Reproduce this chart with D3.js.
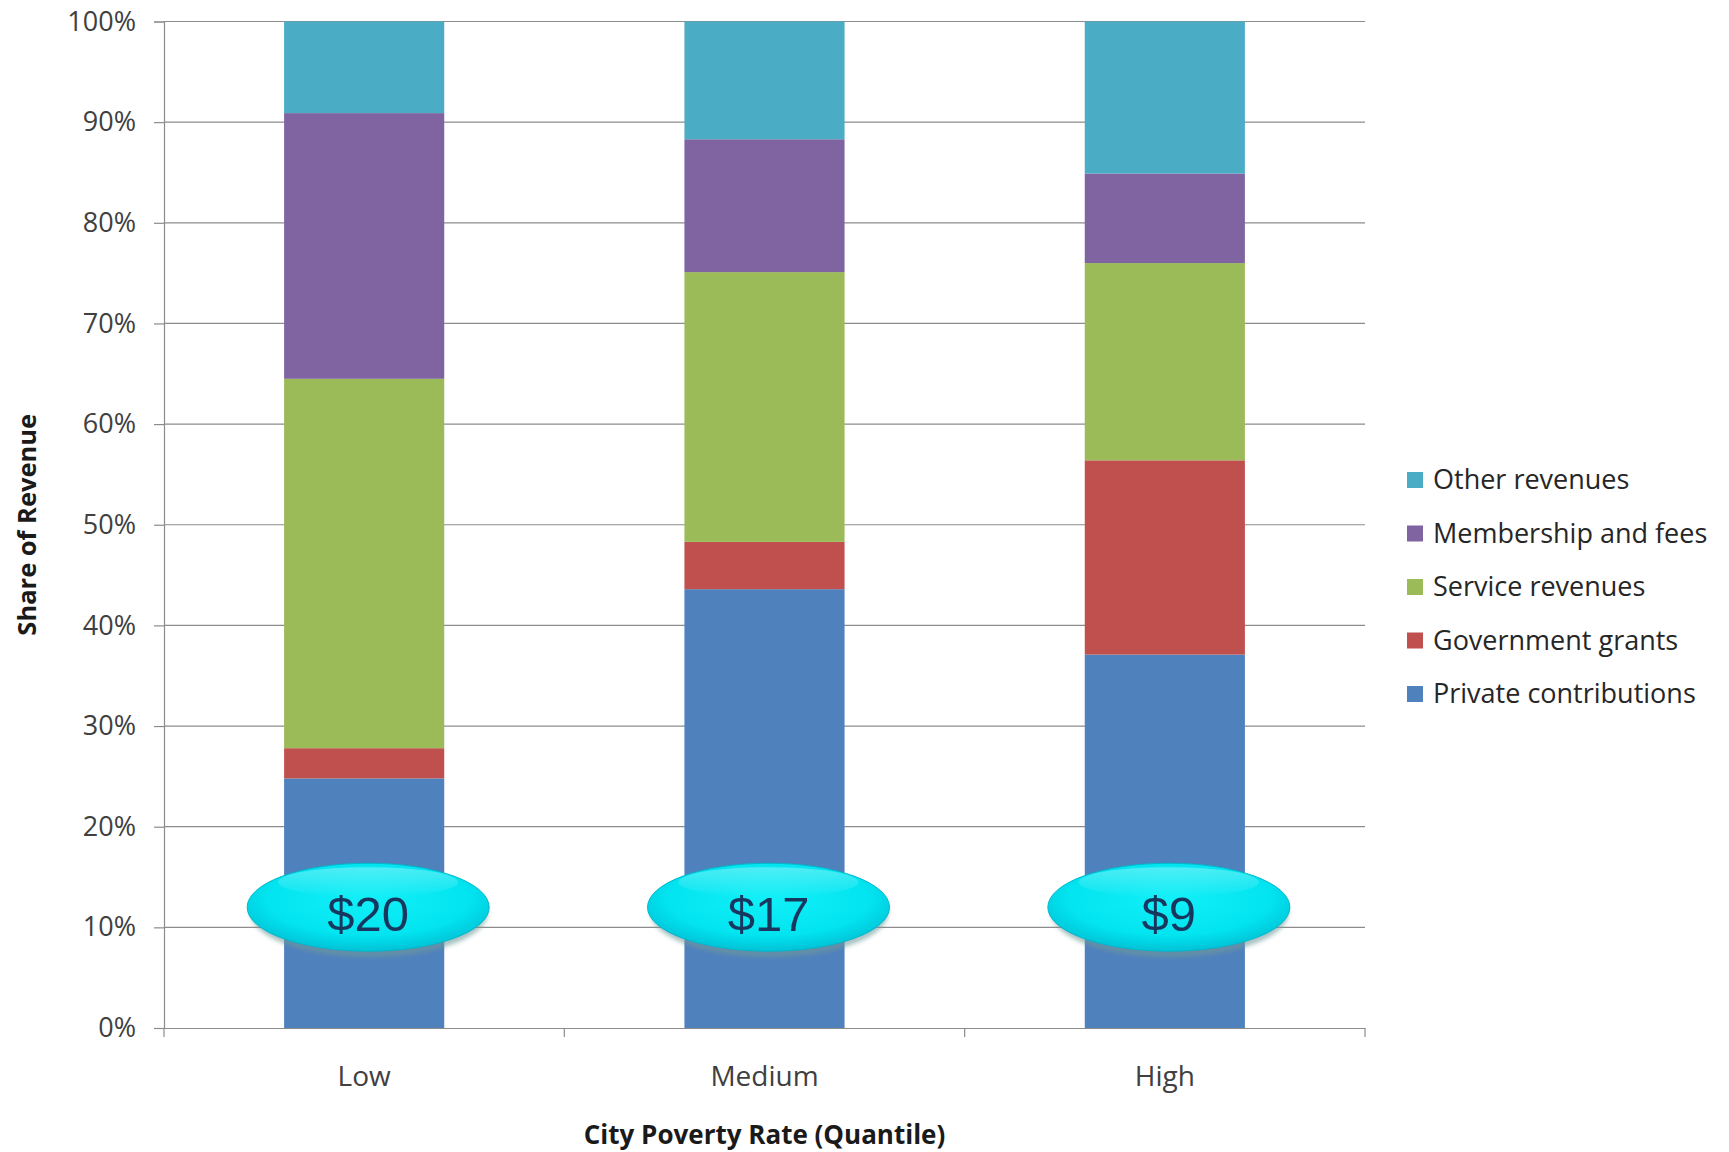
<!DOCTYPE html>
<html><head><meta charset="utf-8">
<script src="https://cdn.jsdelivr.net/npm/d3@7/dist/d3.min.js"></script>
<style>body{margin:0;background:#fff}svg{display:block}</style>
</head><body><svg id="c" width="1729" height="1152" font-family="'Open Sans',sans-serif"></svg>
<script>
const categories = ["Low", "Medium", "High"];
const seriesNames = ["Private contributions", "Government grants", "Service revenues", "Membership and fees", "Other revenues"];
const privateContributions = [24.8, 43.6, 37.1];
const governmentGrants = [3.0, 4.7, 19.3];
const serviceRevenues = [36.7, 26.8, 19.6];
const membershipAndFees = [26.4, 13.2, 8.9];
const otherRevenues = [9.1, 11.7, 15.1];
const totalRevenue = ["$20", "$17", "$9"];
const yTicks = [0, 10, 20, 30, 40, 50, 60, 70, 80, 90, 100];
const colors = ["#4F81BD", "#C0504D", "#9BBB59", "#8064A2", "#4BACC6"];

const seriesValues = [privateContributions, governmentGrants, serviceRevenues, membershipAndFees, otherRevenues];
const table = categories.map((c, i) => {
  const o = {cat: c};
  seriesNames.forEach((s, j) => o[s] = seriesValues[j][i]);
  return o;
});
const stacked = d3.stack().keys(seriesNames)(table);

const svg = d3.select("#c");
const L = 164, R = 1365, T = 21.5, B = 1028;
const x = d3.scaleBand().domain(categories).range([L, R]).paddingInner(0.6).paddingOuter(0.3);
const y = d3.scaleLinear().domain([0, 100]).range([B, T]);
const color = d3.scaleOrdinal().domain(seriesNames).range(colors);

// gridlines
svg.append("g").selectAll("line").data(yTicks.filter(d => d > 0)).join("line")
  .attr("x1", L).attr("x2", R).attr("y1", d => y(d)).attr("y2", d => y(d))
  .attr("stroke", "#8c8c8c").attr("stroke-width", 1.2);

// bars
svg.append("g").selectAll("g").data(stacked).join("g")
  .attr("fill", d => color(d.key))
  .selectAll("rect").data(d => d).join("rect")
  .attr("x", d => x(d.data.cat)).attr("width", x.bandwidth())
  .attr("y", d => y(d[1])).attr("height", d => y(d[0]) - y(d[1]));

// y axis
const yAxis = svg.append("g").attr("transform", `translate(${L},0)`)
  .call(d3.axisLeft(y).tickValues(yTicks).tickFormat(d => d + "%").tickSize(10).tickPadding(18));
yAxis.select(".domain").attr("stroke", "#8c8c8c").attr("stroke-width", 1.2);
yAxis.selectAll(".tick line").attr("stroke", "#8c8c8c").attr("stroke-width", 1.2);
yAxis.selectAll(".tick text").attr("font-size", 27).attr("fill", "#404040").attr("font-family", "'Open Sans',sans-serif");

// x axis
const xAxis = svg.append("g").attr("transform", `translate(0,${B})`)
  .call(d3.axisBottom(x).tickSize(0).tickPadding(38));
xAxis.select(".domain").attr("stroke", "#8c8c8c").attr("stroke-width", 1.2);
xAxis.selectAll(".tick text").attr("font-size", 28).attr("fill", "#404040").attr("font-family", "'Open Sans',sans-serif");
const bounds = [0, 1, 2, 3].map(i => L + i * (R - L) / categories.length);
svg.append("g").selectAll("line").data(bounds).join("line")
  .attr("x1", d => d).attr("x2", d => d).attr("y1", B).attr("y2", B + 9)
  .attr("stroke", "#8c8c8c").attr("stroke-width", 1.2);

// axis titles
svg.append("text").attr("transform", `translate(36,${(T + B) / 2}) rotate(-90)`)
  .attr("text-anchor", "middle").attr("font-size", 25.5).attr("font-weight", "bold").attr("fill", "#1a1a1a")
  .text("Share of Revenue");
svg.append("text").attr("x", (L + R) / 2).attr("y", 1144)
  .attr("text-anchor", "middle").attr("font-size", 26).attr("font-weight", "bold").attr("fill", "#1a1a1a")
  .text("City Poverty Rate (Quantile)");

// ellipse gradients
const defs = svg.append("defs");
const rg = defs.append("radialGradient").attr("id", "eg").attr("cx", "50%").attr("cy", "40%").attr("r", "60%");
rg.append("stop").attr("offset", "0%").attr("stop-color", "#12F0F8");
rg.append("stop").attr("offset", "70%").attr("stop-color", "#02E4F0");
rg.append("stop").attr("offset", "100%").attr("stop-color", "#00C2D6");
const lg = defs.append("linearGradient").attr("id", "hl").attr("x1", 0).attr("y1", 0).attr("x2", 0).attr("y2", 1);
lg.append("stop").attr("offset", "0%").attr("stop-color", "#ffffff").attr("stop-opacity", 0.3);
lg.append("stop").attr("offset", "100%").attr("stop-color", "#ffffff").attr("stop-opacity", 0);
const blur = defs.append("filter").attr("id", "sh").attr("x", "-20%").attr("y", "-20%").attr("width", "140%").attr("height", "160%");
blur.append("feGaussianBlur").attr("stdDeviation", 2);

const eg = svg.append("g").selectAll("g").data(categories).join("g")
  .attr("transform", d => `translate(${x(d) + x.bandwidth() / 2 + 4},${y(12.0)})`);
eg.append("ellipse").attr("cx", 1).attr("cy", 5).attr("rx", 119).attr("ry", 45)
  .attr("fill", "#6f9a9a").attr("opacity", 0.6).attr("filter", "url(#sh)");
eg.append("ellipse").attr("rx", 121).attr("ry", 44).attr("fill", "url(#eg)")
  .attr("stroke", "#00B8CC").attr("stroke-width", 1);
eg.append("ellipse").attr("cy", -25).attr("rx", 90).attr("ry", 15).attr("fill", "url(#hl)");
eg.append("text").attr("y", 24).attr("text-anchor", "middle")
  .attr("font-family", "'Liberation Sans',Arial,sans-serif").attr("font-size", 49).attr("fill", "#17375E")
  .text((d, i) => totalRevenue[i]);

// legend
const leg = svg.append("g").attr("transform", "translate(1407,0)");
const legOrder = seriesNames.slice().reverse();
const li = leg.selectAll("g").data(legOrder).join("g")
  .attr("transform", (d, i) => `translate(0,${480 + i * 53.5})`);
li.append("rect").attr("x", 0).attr("y", -8).attr("width", 16).attr("height", 16).attr("fill", d => color(d));
li.append("text").attr("x", 26).attr("y", 0).attr("dy", "0.35em").attr("font-size", 27).attr("fill", "#262626").text(d => d);
</script></body></html>
